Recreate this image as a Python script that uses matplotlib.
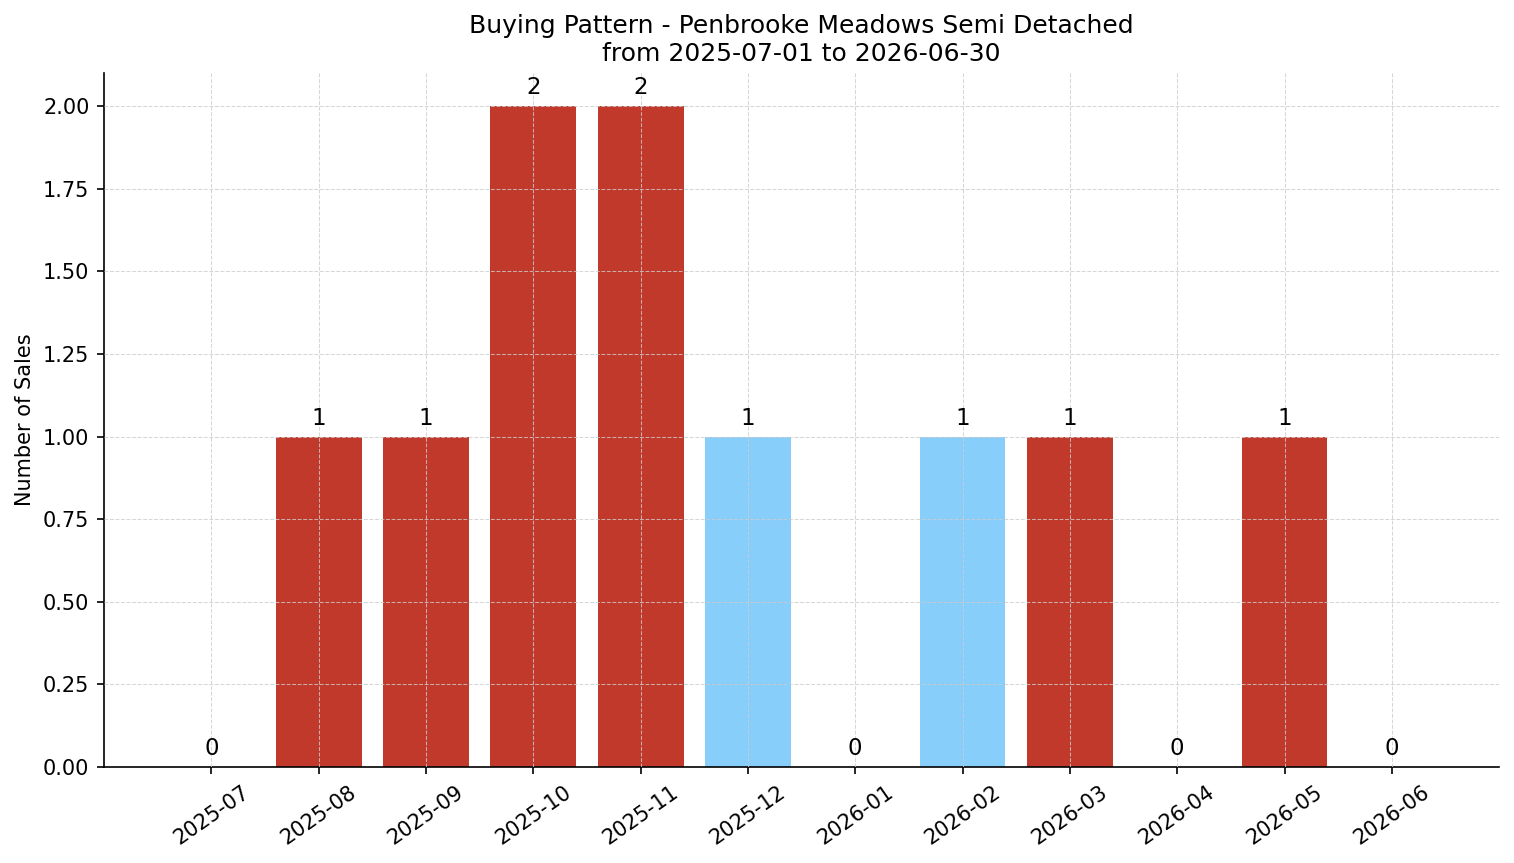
import matplotlib
matplotlib.use("Agg")
from matplotlib import pyplot as plt
import numpy as np

months = ["2025-07", "2025-08", "2025-09", "2025-10", "2025-11", "2025-12",
          "2026-01", "2026-02", "2026-03", "2026-04", "2026-05", "2026-06"]
sales = [0, 1, 1, 2, 2, 1, 0, 1, 1, 0, 1, 0]
colors = ["#c0392b", "#c0392b", "#c0392b", "#c0392b", "#c0392b", "#87cefa",
          "#c0392b", "#87cefa", "#c0392b", "#c0392b", "#c0392b", "#c0392b"]

fig = plt.figure(figsize=(1514 / 150, 863 / 150), dpi=150)
ax = fig.add_axes([0.0687, 0.1112, 0.9215, 0.8042])

x = np.arange(len(months))
ax.bar(x, sales, width=0.8, color=colors, zorder=2)
for xi, v in zip(x, sales):
    ax.text(xi, v + 0.02, str(v), ha="center", va="bottom", fontsize=11)

ax.set_xticks(x)
ax.set_xticklabels(months, rotation=35, ha="center", fontsize=10)
ax.tick_params(axis="y", labelsize=10)
ax.set_xlim(-1, 12)
ax.set_ylim(0, 2.1)
ax.set_yticks(np.arange(0, 2.01, 0.25))
ax.yaxis.set_major_formatter(matplotlib.ticker.FormatStrFormatter("%.2f"))
ax.set_ylabel("Number of Sales", fontsize=10)
ax.set_title("Buying Pattern - Penbrooke Meadows Semi Detached\nfrom 2025-07-01 to 2026-06-30",
             fontsize=12)
ax.grid(True, linestyle="--", color="#cccccc", linewidth=0.5, alpha=0.8, zorder=0)
ax.set_axisbelow(False)
ax.spines["top"].set_visible(False)
ax.spines["right"].set_visible(False)

fig.savefig("out.png", dpi=150)
